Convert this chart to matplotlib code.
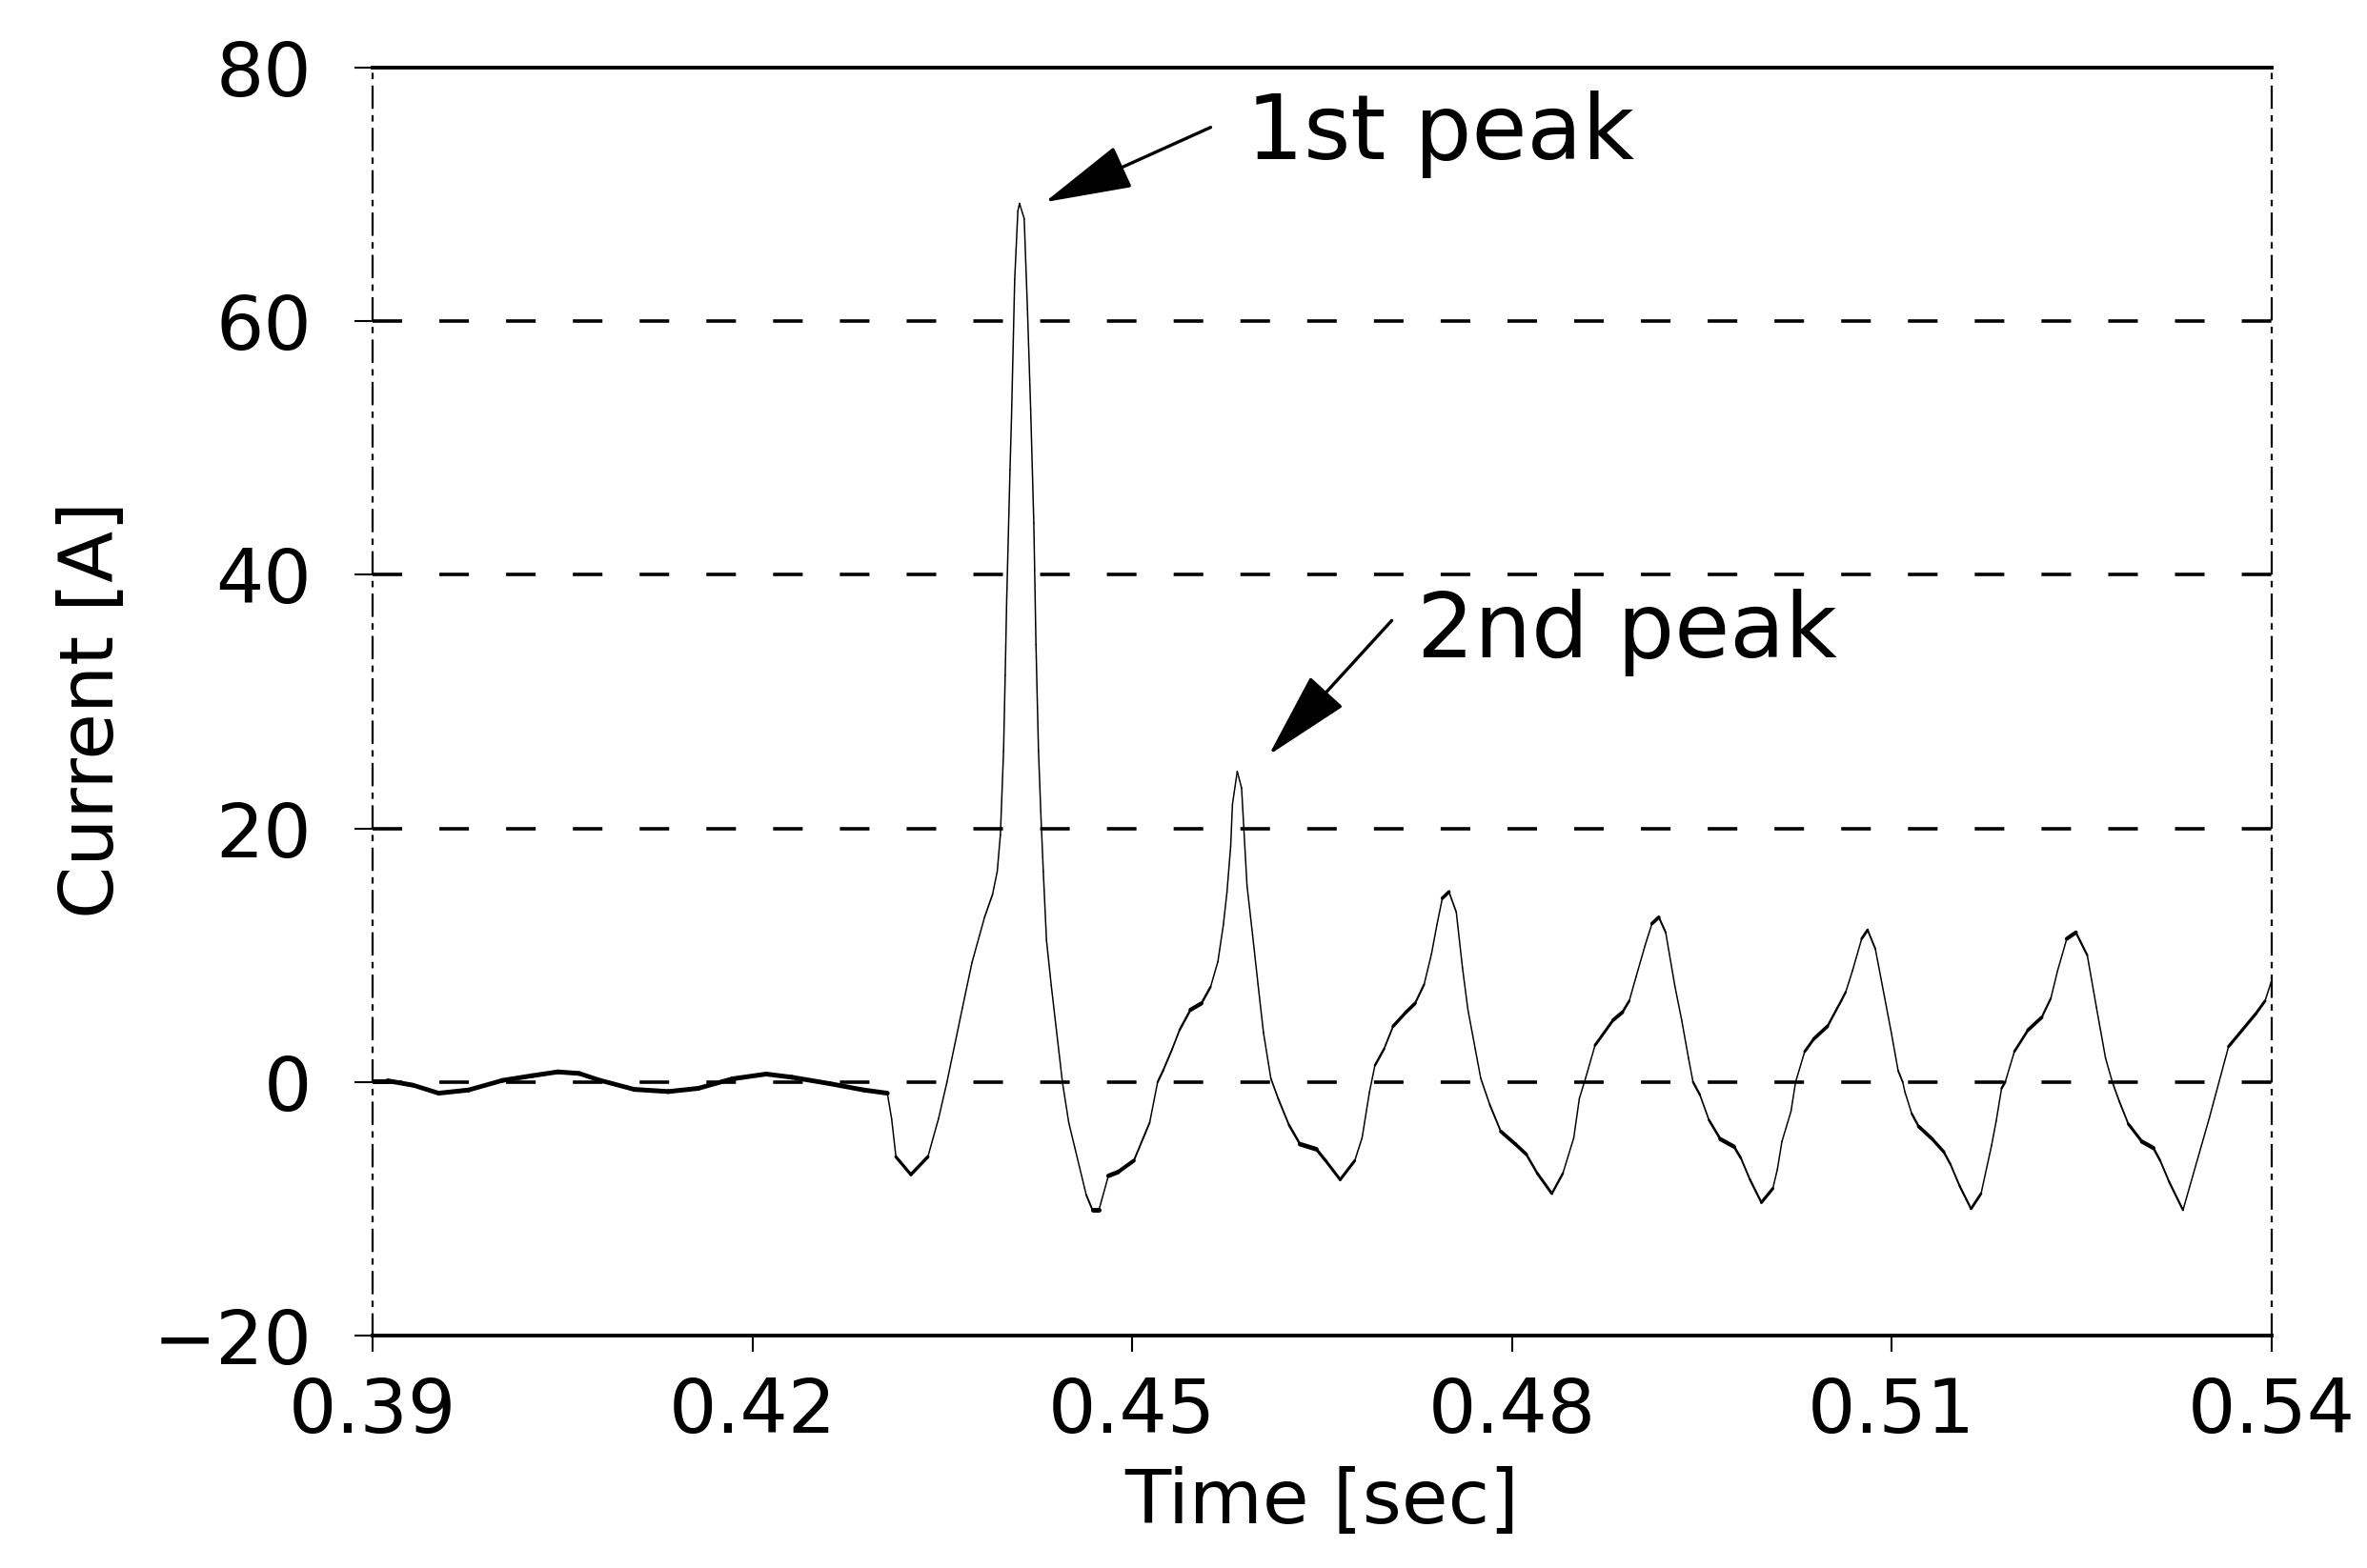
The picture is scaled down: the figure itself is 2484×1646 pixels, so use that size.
import numpy as np
import matplotlib.pyplot as plt
from matplotlib.collections import LineCollection

# steady state before switching (time in s, current in A)
t_pre = [0.3900, 0.39119, 0.39321, 0.39522, 0.39757, 0.40026, 0.40261, 0.40463,
         0.40631, 0.40799, 0.41067, 0.41336, 0.41572, 0.41840, 0.42109, 0.42311,
         0.42613, 0.42882, 0.43066]
i_pre = [0.1, 0.1, -0.25, -0.88, -0.63, 0.13, 0.5, 0.8,
         0.68, 0.13, -0.58, -0.75, -0.5, 0.25, 0.63, 0.38,
         -0.13, -0.63, -0.88]

# inrush transient after switching
t_inrush = [0.43100, 0.43134, 0.43252, 0.43386, 0.43470, 0.43537, 0.43658, 0.43734,
            0.43834, 0.43897, 0.43934, 0.43959, 0.43984, 0.43997, 0.44009, 0.44035,
            0.44047, 0.44072, 0.44097, 0.44110, 0.44147, 0.44173, 0.44198, 0.44223,
            0.44240, 0.44260, 0.44280, 0.44298, 0.44323, 0.44361, 0.44449, 0.44499,
            0.44637, 0.44687, 0.44737, 0.44812, 0.44888, 0.45013, 0.45088, 0.45138,
            0.45201, 0.45244, 0.45316, 0.45374, 0.45461, 0.45547, 0.45619, 0.45677,
            0.45720, 0.45749, 0.45778, 0.45792, 0.45830, 0.45864, 0.45907, 0.45951,
            0.45994, 0.46037, 0.46095, 0.46153, 0.46239, 0.46326, 0.46455, 0.46528,
            0.46643, 0.46758, 0.46816, 0.46874, 0.46917, 0.46989, 0.47061, 0.47162,
            0.47234, 0.47306, 0.47364, 0.47407, 0.47450, 0.47502, 0.47560, 0.47609,
            0.47652, 0.47710, 0.47753, 0.47825, 0.47912, 0.48027, 0.48113, 0.48200,
            0.48315, 0.48402, 0.48488, 0.48532, 0.48584, 0.48656, 0.48728, 0.48800,
            0.48872, 0.48926, 0.48980, 0.49052, 0.49106, 0.49160, 0.49214, 0.49286,
            0.49340, 0.49394, 0.49430, 0.49484, 0.49556, 0.49646, 0.49754, 0.49808,
            0.49880, 0.49970, 0.50060, 0.50096, 0.50132, 0.50204, 0.50240, 0.50312,
            0.50384, 0.50492, 0.50600, 0.50636, 0.50690, 0.50762, 0.50809, 0.50870,
            0.50996, 0.51050, 0.51086, 0.51104, 0.51158, 0.51212, 0.51320, 0.51410,
            0.51464, 0.51536, 0.51626, 0.51705, 0.51788, 0.51824, 0.51867, 0.51896,
            0.51968, 0.52076, 0.52184, 0.52256, 0.52310, 0.52382, 0.52454, 0.52544,
            0.52616, 0.52688, 0.52742, 0.52796, 0.52868, 0.52976, 0.53066, 0.53120,
            0.53192, 0.53300, 0.53509, 0.53660, 0.53768, 0.53876, 0.53948, 0.54000]
i_inrush = [-2.9, -5.9, -7.3, -5.9, -2.9, 0.0, 5.8, 9.4,
            13.0, 14.8, 16.6, 19.5, 26.1, 32.1, 38.1, 48.3,
            52.5, 63.3, 68.7, 69.3, 68.1, 60.9, 53.1, 44.1,
            34.5, 26.1, 20.8, 16.6, 11.2, 7.6, 0.0, -3.2,
            -8.9, -10.1, -10.1, -7.4, -7.1, -6.2, -4.4, -3.2,
            0.0, 0.9, 2.6, 4.1, 5.7, 6.2, 7.5, 9.5,
            12.4, 15.0, 18.6, 21.9, 24.5, 23.2, 15.5, 11.6,
            7.7, 3.9, 0.3, -1.3, -3.4, -4.9, -5.3, -6.2,
            -7.7, -6.2, -4.4, -0.8, 1.3, 2.6, 4.4, 5.5,
            6.2, 7.7, 10.1, 12.4, 14.5, 15.0, 13.4, 9.0,
            5.7, 2.6, 0.3, -1.8, -3.9, -4.9, -5.7, -7.2,
            -8.8, -7.2, -4.4, -1.3, 0.4, 2.9, 3.9, 4.9,
            5.5, 6.4, 8.3, 10.8, 12.5, 13.0, 11.8, 7.6,
            4.9, 1.9, 0.0, -1.0, -3.0, -4.5, -5.1, -6.0,
            -7.7, -9.5, -8.4, -6.9, -4.7, -2.3, 0.0, 2.4,
            3.4, 4.4, 6.4, 7.1, 8.8, 11.3, 12.0, 10.5,
            3.9, 0.9, 0.0, -0.8, -2.5, -3.5, -4.5, -5.5,
            -6.5, -8.2, -10.0, -8.8, -5.0, -3.1, -0.5, 0.0,
            2.4, 4.1, 5.1, 6.6, 8.8, 11.3, 11.8, 10.0,
            5.9, 1.9, 0.0, -1.5, -3.3, -4.7, -5.2, -6.2,
            -7.9, -10.1, -2.8, 2.8, 4.1, 5.4, 6.4, 8.0]

x_ticks = [0.39, 0.42, 0.45, 0.48, 0.51, 0.54]
x_labels = ['0.39', '0.42', '0.45', '0.48', '0.51', '0.54']
y_ticks = [-20, 0, 20, 40, 60, 80]
grid_levels = [0, 20, 40, 60]

# annotation anchors: (tip t, tip i), (tail t, tail i), text position
peak1_tip = (0.4431, 69.4)
peak1_tail = (0.4562, 75.3)
peak1_text = (0.4590, 72.8)
peak2_tip = (0.4608, 25.8)
peak2_tail = (0.4705, 36.4)
peak2_text = (0.4725, 33.5)

plt.rcParams['font.family'] = ['DejaVu Sans']

fig = plt.figure(figsize=(24.84, 16.46), dpi=100)
ax = fig.add_axes([0.1574, 0.1482, 0.8023, 0.8086])
ax.set_xlim(0.39, 0.54)
ax.set_ylim(-20, 80)

# dashed horizontal grid
for lev in grid_levels:
    ax.axhline(lev, color='black', lw=2.6, linestyle=(0, (8.6, 10.8)), zorder=1)

# trace: pen gets thinner on steep parts, like the plotter output
t = np.array(t_pre + t_inrush)
cur = np.array(i_pre + i_inrush)
pts = ax.transData.transform(np.column_stack([t, cur]))
d = np.diff(pts, axis=0)
cosang = np.abs(d[:, 0]) / np.hypot(d[:, 0], d[:, 1])
widths = 3.6 * np.clip(cosang, 0.3, 1.0)
segs = np.stack([np.column_stack([t[:-1], cur[:-1]]),
                 np.column_stack([t[1:], cur[1:]])], axis=1)
lc = LineCollection(segs, linewidths=widths, colors='black', capstyle='round', zorder=3)
ax.add_collection(lc)

# frame
ax.spines['top'].set_linewidth(2.8)
ax.spines['bottom'].set_linewidth(2.8)
for side in ['left', 'right']:
    ax.spines[side].set_linewidth(1.6)
    ax.spines[side].set_linestyle((0, (10, 4, 2, 4)))

ax.set_xticks(x_ticks)
ax.set_xticklabels(x_labels)
ax.set_yticks(y_ticks)
ax.tick_params(axis='x', direction='out', length=12, width=1.5, pad=18, labelsize=57)
ax.tick_params(axis='y', direction='inout', length=28, width=1.5, pad=32, labelsize=57)

ax.set_xlabel('Time [sec]', fontsize=57)
ax.set_ylabel('Current [A]', fontsize=57)
ax.xaxis.set_label_coords(0.5, -0.102)
ax.yaxis.set_label_coords(-0.129, 0.494)

# peak markers
arrow_kw = dict(arrowstyle='-|>,head_length=3.9,head_width=1.0', mutation_scale=15,
                lw=2.4, color='black', shrinkA=0, shrinkB=0)
ax.annotate('', xy=peak1_tip, xytext=peak1_tail, arrowprops=arrow_kw)
ax.annotate('', xy=peak2_tip, xytext=peak2_tail, arrowprops=arrow_kw)
ax.text(peak1_text[0], peak1_text[1], '1st peak', fontsize=68, va='baseline', ha='left')
ax.text(peak2_text[0], peak2_text[1], '2nd peak', fontsize=68, va='baseline', ha='left')

fig.savefig('out.png', dpi=100, facecolor='white')
